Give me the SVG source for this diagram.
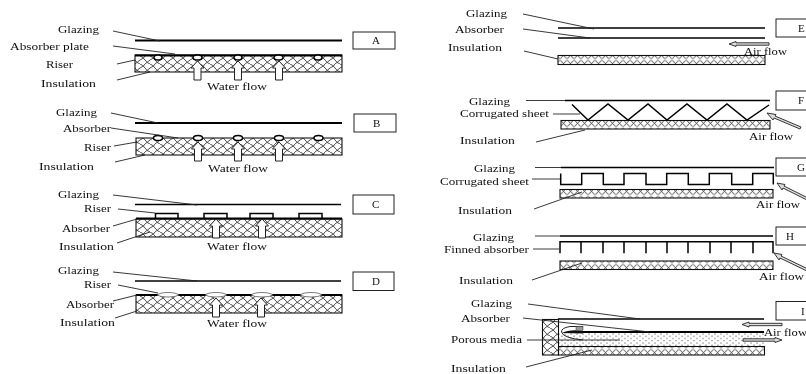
<svg xmlns="http://www.w3.org/2000/svg" width="806" height="374" viewBox="0 0 806 374">
<style>
text{font-family:"Liberation Serif","Times New Roman",serif;font-size:11px;fill:#111}
.ld{stroke:#222;stroke-width:.9;fill:none}
.pl{stroke:#000;stroke-width:1.5;fill:none}
.th{stroke:#000;stroke-width:2;fill:none}
.ins{fill:url(#hatch);stroke:#111;stroke-width:1.1}
.insf{fill:url(#hatchf);stroke:#111;stroke-width:1.1}
.box{fill:#fff;stroke:#222;stroke-width:1}
.ar{fill:#fff;stroke:#222;stroke-width:1}
.arg{fill:#ddd;stroke:#222;stroke-width:.9}
.rs{fill:#fff;stroke:#000;stroke-width:1.4}
.lens{fill:#fff;stroke:#444;stroke-width:.7}
</style>
<defs>
<filter id="soft" x="0" y="0" width="100%" height="100%"><feGaussianBlur stdDeviation="0.4"/></filter>
<pattern id="hatch" width="10" height="8" patternUnits="userSpaceOnUse">
<path d="M0 0Q3 1 5 4T10 8M0 4L3.500 2 5 0M5 8L7.500 6 10 4" fill="none" stroke="#222" stroke-width=".8"/>
</pattern>
<pattern id="hatchf" width="7" height="8.500" patternUnits="userSpaceOnUse">
<path d="M0 .5L3.500 4.250 7 .5M0 8L3.500 4.250 7 8" fill="none" stroke="#222" stroke-width=".8"/>
</pattern>
<pattern id="dots" width="6" height="4.500" patternUnits="userSpaceOnUse">
<circle cx="1" cy="1" r=".6" fill="#222"/><circle cx="4" cy="3.200" r=".6" fill="#222"/>
</pattern>
<path id="up" class="ar" d="M-3.500 0V-12H-6.500L0-19 6.500-12H3.500V0Z"/>
<path id="left" class="arg" d="M0 0L7-2.500V-1.200H40V1.200H7V2.500Z"/>
</defs>
<rect width="806" height="374" fill="#fff"/>
<g id="diagram" filter="url(#soft)">

<g id="panel-a">
<rect class="box" x="353" y="32" width="42" height="17"/>
<text x="372" y="44">A</text>
<path class="th" d="M135 40.500H342"/>
<rect class="ins" x="135" y="55" width="207" height="17"/>
<path class="th" d="M135 55.500H342"/>
<g id="a-risers"><ellipse class="rs" cx="158" cy="57.500" rx="4" ry="2.500"/><ellipse class="rs" cx="197.500" cy="57.500" rx="4.500" ry="2.500"/><ellipse class="rs" cx="238" cy="57.500" rx="4" ry="2.500"/><ellipse class="rs" cx="278.500" cy="57.500" rx="4.500" ry="2.500"/><ellipse class="rs" cx="318" cy="57.500" rx="4" ry="2.500"/></g>
<use href="#up" x="197.500" y="80"/><use href="#up" x="238" y="80"/><use href="#up" x="279" y="80"/>
<text x="58" y="33" textLength="41" lengthAdjust="spacingAndGlyphs">Glazing</text>
<text x="10" y="49.500" textLength="79" lengthAdjust="spacingAndGlyphs">Absorber plate</text>
<text x="46" y="68" textLength="27" lengthAdjust="spacingAndGlyphs">Riser</text>
<text x="41" y="87" textLength="55" lengthAdjust="spacingAndGlyphs">Insulation</text>
<text x="207" y="90" textLength="60" lengthAdjust="spacingAndGlyphs">Water flow</text>
</g>

<g id="panel-b">
<rect class="box" x="354" y="114" width="42" height="18"/>
<text x="373" y="126.500">B</text>
<path class="th" d="M135 123H342"/>
<rect class="ins" x="136" y="138" width="206" height="17"/>
<ellipse class="rs" cx="158" cy="138" rx="4.500" ry="2.500"/><ellipse class="rs" cx="198" cy="138" rx="4.500" ry="2.500"/><ellipse class="rs" cx="238" cy="138" rx="4.500" ry="2.500"/><ellipse class="rs" cx="279" cy="138" rx="4.500" ry="2.500"/><ellipse class="rs" cx="318.500" cy="138" rx="4.500" ry="2.500"/>
<use href="#up" x="198" y="161"/><use href="#up" x="238" y="161"/><use href="#up" x="279" y="161"/>
<text x="56" y="115.500" textLength="41" lengthAdjust="spacingAndGlyphs">Glazing</text>
<text x="63" y="131.500" textLength="48" lengthAdjust="spacingAndGlyphs">Absorber</text>
<text x="84" y="150.500" textLength="27" lengthAdjust="spacingAndGlyphs">Riser</text>
<text x="39" y="169.500" textLength="55" lengthAdjust="spacingAndGlyphs">Insulation</text>
<text x="208" y="171.500" textLength="60" lengthAdjust="spacingAndGlyphs">Water flow</text>
</g>

<g id="panel-c">
<rect class="box" x="353" y="195" width="41" height="19"/>
<text x="372" y="208">C</text>
<path class="pl" d="M135 204.500H341"/>
<rect class="ins" x="136" y="219" width="206" height="18"/>
<path class="th" d="M136 218.500H342"/>
<path class="pl" d="M155.500 218V213.500H178V218M204 218V213.500H227V218M250 218V213.500H273V218M299 218V213.500H322V218"/>
<use href="#up" x="216" y="238"/><use href="#up" x="262" y="238"/>
<text x="58" y="197.500" textLength="41" lengthAdjust="spacingAndGlyphs">Glazing</text>
<text x="84" y="211.500" textLength="27" lengthAdjust="spacingAndGlyphs">Riser</text>
<text x="62" y="231.500" textLength="48" lengthAdjust="spacingAndGlyphs">Absorber</text>
<text x="59" y="249.500" textLength="55" lengthAdjust="spacingAndGlyphs">Insulation</text>
<text x="207" y="250" textLength="60" lengthAdjust="spacingAndGlyphs">Water flow</text>
</g>

<g id="panel-d">
<rect class="box" x="353" y="272" width="41" height="18.500"/>
<text x="372" y="284.500">D</text>
<path class="pl" d="M135 281H341"/>
<rect class="ins" x="136" y="295" width="206" height="18"/>
<path class="th" d="M136 295H342"/>
<path class="lens" d="M157 295Q160 292.500 168 292.500Q176 292.500 179 295Q176 297 168 297Q160 297 157 295ZM205 295Q208 292.500 216 292.500Q224 292.500 227 295Q224 297 216 297Q208 297 205 295ZM251 295Q254 292.500 262 292.500Q270 292.500 273 295Q270 297 262 297Q254 297 251 295ZM300 295Q303 292.500 311 292.500Q319 292.500 322 295Q319 297 311 297Q303 297 300 295Z"/>
<use href="#up" x="216" y="317"/><use href="#up" x="261" y="317"/>
<text x="58" y="273.500" textLength="41" lengthAdjust="spacingAndGlyphs">Glazing</text>
<text x="84" y="287.500" textLength="27" lengthAdjust="spacingAndGlyphs">Riser</text>
<text x="66" y="307.500" textLength="48" lengthAdjust="spacingAndGlyphs">Absorber</text>
<text x="60" y="325.500" textLength="55" lengthAdjust="spacingAndGlyphs">Insulation</text>
<text x="207" y="326.500" textLength="60" lengthAdjust="spacingAndGlyphs">Water flow</text>
</g>

<g id="panel-e">
<rect class="box" x="776" y="19" width="40" height="18"/>
<text x="798" y="32">E</text>
<path class="pl" d="M558 28H765M558 38H765"/>
<rect class="insf" x="558" y="55.500" width="207" height="9"/>
<use href="#left" x="729" y="44"/>
<text x="744" y="55" textLength="43" lengthAdjust="spacingAndGlyphs">Air flow</text>
<text x="466" y="16.500" textLength="41" lengthAdjust="spacingAndGlyphs">Glazing</text>
<text x="455" y="33" textLength="49" lengthAdjust="spacingAndGlyphs">Absorber</text>
<text x="448" y="50.500" textLength="54" lengthAdjust="spacingAndGlyphs">Insulation</text>
</g>

<g id="panel-f">
<rect class="box" x="776" y="91" width="40" height="19"/>
<text x="798" y="104">F</text>
<path class="pl" d="M565 100.500H770"/>
<path class="pl" d="M572 104.500L588 120 608 104 628 120 648 104 667 120 687 104 707 120 727 104 747 120 769 105"/>
<rect class="insf" x="561" y="120.500" width="209" height="8.500"/>
<path class="arg" d="M767 113L776 114.500 775 116 801 127 800 129 774 118 773 120Z"/>
<text x="749" y="140" textLength="44" lengthAdjust="spacingAndGlyphs">Air flow</text>
<text x="469" y="104.500" textLength="41" lengthAdjust="spacingAndGlyphs">Glazing</text>
<text x="460" y="116.500" textLength="89" lengthAdjust="spacingAndGlyphs">Corrugated sheet</text>
<text x="460" y="144" textLength="55" lengthAdjust="spacingAndGlyphs">Insulation</text>
</g>

<g id="panel-g">
<rect class="box" x="776" y="158" width="40" height="18"/>
<text x="797" y="171">G</text>
<path class="pl" d="M561 167.500H774"/>
<path class="pl" d="M560.700 173.500V184.500H581.700V173.500H603.300V184.500H624V173.500H646V184.500H666.700V173.500H688.300V184.500H709.300V173.500H731.700V184.500H752.700V173.500H773.300V184.500"/>
<rect class="insf" x="560" y="189.500" width="213" height="8.500"/>
<path class="arg" d="M777 183L785 184.500 784 186 810 199 809 201 783 188 782 190Z"/>
<text x="756" y="208" textLength="44" lengthAdjust="spacingAndGlyphs">Air flow</text>
<text x="474" y="171.500" textLength="41" lengthAdjust="spacingAndGlyphs">Glazing</text>
<text x="440" y="184.500" textLength="89" lengthAdjust="spacingAndGlyphs">Corrugated sheet</text>
<text x="458" y="213.500" textLength="54" lengthAdjust="spacingAndGlyphs">Insulation</text>
</g>

<g id="panel-h">
<rect class="box" x="776" y="227" width="40" height="18"/>
<text x="786" y="240">H</text>
<path class="pl" d="M560 236H773"/>
<path class="pl" d="M560 253.300V241.700H773V253.300M581 241.700V253.300M603 241.700V253.300M624 241.700V253.300M646 241.700V253.300M667 241.700V253.300M688 241.700V253.300M710 241.700V253.300M731 241.700V253.300M753 241.700V253.300"/>
<rect class="insf" x="560" y="261" width="213" height="8.500"/>
<path class="arg" d="M774 253L782 254.500 781 256 810 270 809 272 780 258 779 260Z"/>
<text x="759" y="279.500" textLength="45" lengthAdjust="spacingAndGlyphs">Air flow</text>
<text x="473" y="240.500" textLength="41" lengthAdjust="spacingAndGlyphs">Glazing</text>
<text x="444" y="253" textLength="85" lengthAdjust="spacingAndGlyphs">Finned absorber</text>
<text x="459" y="284" textLength="54" lengthAdjust="spacingAndGlyphs">Insulation</text>
</g>

<g id="panel-i">
<rect class="box" x="776" y="301.500" width="40" height="18.500"/>
<text x="801" y="314.500">I</text>
<rect x="558" y="333" width="206" height="13.500" fill="url(#dots)"/>
<rect class="ins" x="542.500" y="319.500" width="16" height="35.500"/>
<rect class="insf" x="558.500" y="346.500" width="206" height="8.500"/>
<path class="pl" d="M558 319H764"/>
<path class="th" d="M580 332H764"/>
<path d="M583 326.500H570Q561 328 561.500 332Q563 338 583 340" fill="none" stroke="#222" stroke-width="1"/>
<path d="M562 333Q570 329 583 331V333.500Z" fill="#111"/>
<rect x="576" y="326.500" width="7" height="4" fill="#999" stroke="#333" stroke-width=".5"/>
<use href="#left" x="742" y="324.500"/>
<path class="arg" d="M782 340L775 337.500V338.800H743V341.200H775V342.500Z"/>
<text x="764" y="335.500" textLength="43" lengthAdjust="spacingAndGlyphs">Air flow</text>
<text x="471" y="306.500" textLength="41" lengthAdjust="spacingAndGlyphs">Glazing</text>
<text x="461" y="322" textLength="49" lengthAdjust="spacingAndGlyphs">Absorber</text>
<text x="451" y="342.500" textLength="71" lengthAdjust="spacingAndGlyphs">Porous media</text>
<text x="451" y="371.500" textLength="55" lengthAdjust="spacingAndGlyphs">Insulation</text>
</g>

<g id="connectors">
<path class="ld" d="M113 31L160 41M113 46L175 54M117 64L135 60M117 80L150 72"/>
<path class="ld" d="M111 113L158 123M111 128L178 138M114 146L137 142M115 162L145 155"/>
<path class="ld" d="M113 195L197 205M118 209L155 213M113 226L137 219M117 243L150 232"/>
<path class="ld" d="M113 272L197 281M118 285L158 293M113 301L137 295M115 318L137 311"/>
<path class="ld" d="M523 14L594 29M523 29L590 38M524 51L558 59"/>
<path class="ld" d="M526 100.500H565M553 114H580M536 142L585 130"/>
<path class="ld" d="M535 167.500H561M532 179H560M534 209L582 192"/>
<path class="ld" d="M535 236H560M533 249H559M532 280L582 263"/>
<path class="ld" d="M528 304L640 319M523 318L650 332M527 340H620M526 367L592 350"/>
</g>
</g>
</svg>
